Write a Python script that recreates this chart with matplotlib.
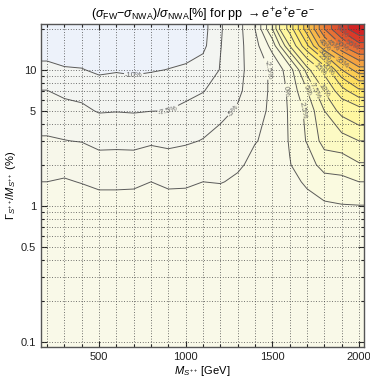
import numpy as np
import matplotlib
matplotlib.use('Agg')
import matplotlib.pyplot as plt
from matplotlib.colors import ListedColormap, BoundaryNorm
from matplotlib.ticker import FixedLocator, NullFormatter, FuncFormatter

plt.rcParams['font.family'] = ['Liberation Sans', 'DejaVu Sans']
plt.rcParams['mathtext.fontset'] = 'custom'
plt.rcParams['mathtext.rm'] = 'Liberation Sans'
plt.rcParams['mathtext.it'] = 'Liberation Sans:italic'

# masse du S++ (GeV) et largeur relative (%)
masses = [200, 300, 400, 500, 600, 700, 800, 900, 1000, 1100,
          1200, 1300, 1400, 1500, 1600, 1700, 1800, 1900, 2000]
widths = [0.1, 0.2, 0.5, 1, 1.5, 2, 3, 5, 7, 10, 15, 20]

# (sigma_FW - sigma_NWA)/sigma_NWA en %, une ligne par largeur
ratio_pct = [
    [-0.3, -0.3, -0.3, -0.3, -0.3, -0.3, -0.3, -0.3, -0.3, -0.3, -0.3, -0.3, -0.3, -0.3, -0.3, -0.3, -0.2, -0.2, -0.2],
    [-0.5, -0.5, -0.5, -0.5, -0.5, -0.5, -0.5, -0.5, -0.5, -0.5, -0.5, -0.5, -0.5, -0.5, -0.5, -0.4, -0.3, -0.3, -0.3],
    [-0.8, -0.8, -0.9, -0.9, -0.9, -0.9, -0.9, -0.9, -0.9, -0.9, -0.9, -0.8, -0.8, -0.7, -0.7, -0.6, -0.5, -0.4, -0.3],
    [-1.4, -1.4, -1.5, -1.7, -1.7, -1.65, -1.5, -1.65, -1.6, -1.5, -1.5, -1.3, -1.2, -1.0, -1.0, -0.6, -0.3, -0.1, -0.05],
    [-2.5, -2.3, -2.6, -3.0, -3.0, -2.95, -2.5, -2.95, -2.9, -2.5, -2.6, -2.2, -1.6, -1.3, -0.6, 0.3, 1.5, 1.8, 2.5],
    [-3.3, -3.3, -3.6, -4.1, -4.0, -4.1, -3.6, -4.0, -3.9, -3.4, -3.3, -2.8, -2.0, -1.6, -0.1, 1.2, 3.6, 3.8, 4.8],
    [-4.8, -4.95, -5.1, -5.7, -5.7, -5.7, -5.4, -5.6, -5.3, -4.9, -4.4, -3.7, -2.6, -2.0, 0.2, 2.7, 6.0, 6.5, 7.5],
    [-6.3, -6.7, -7.0, -7.7, -7.6, -7.7, -7.55, -7.5, -7.0, -6.6, -5.6, -4.8, -3.4, -2.0, 0.3, 3.2, 7.5, 11.0, 13.0],
    [-7.45, -8.1, -8.4, -9.0, -8.9, -9.0, -8.8, -8.7, -8.2, -7.6, -6.6, -5.4, -3.9, -2.0, 0.5, 5.0, 10.3, 18.0, 24.0],
    [-9.3, -9.8, -9.9, -10.4, -10.2, -10.4, -10.2, -9.95, -9.7, -9.0, -7.4, -5.5, -4.2, -1.9, 1.2, 8.5, 17.0, 30.0, 38.0],
    [-11.5, -11.6, -11.7, -12.0, -11.9, -12.0, -11.8, -11.4, -11.1, -10.6, -7.6, -5.8, -3.5, 1.0, 10.0, 24.0, 40.0, 50.0, 58.0],
    [-12.5, -12.6, -12.7, -13.0, -12.9, -13.0, -12.8, -12.3, -12.0, -10.9, -7.7, -6.0, -2.5, 5.0, 17.0, 33.0, 50.0, 62.0, 70.0],
]

niveaux = [-10, -7.5, -5, -2.5, 0, 2.5, 5, 7.5, 10, 15, 20, 25, 30, 35, 40, 45, 50, 55, 60, 65]

# couleurs des bandes
couleurs_bandes = ['#edf2fa', '#f3f5f2', '#f5f6ee', '#f7f7ea', '#f9f9e8', '#fafae0',
                   '#fbfbd4', '#fcfac4', '#fdf9b2', '#fff7a0', '#fff28a', '#ffea70',
                   '#fedd5e', '#fbcc52', '#f8b848', '#f4a240', '#ee8a3a', '#e87034',
                   '#e0542e', '#da3a28', '#d42424']

xlim = (165, 2029)
ylim = (0.0919, 21.7)

# on prolonge la grille jusqu'aux bords du cadre
x = np.concatenate([[xlim[0]], masses, [xlim[1]]])
y = np.concatenate([[ylim[0]], widths, [ylim[1]]])
Z = np.pad(np.array(ratio_pct), 1, mode='edge')
X, Y = np.meshgrid(x, y)

bornes = [-100] + niveaux + [200]
cmap = ListedColormap(couleurs_bandes)
norm = BoundaryNorm(bornes, cmap.N)

fig = plt.figure(figsize=(3.70, 3.78), dpi=100)
ax = fig.add_axes([41 / 370, 1 - 346.7 / 378, 323 / 370, 322.7 / 378])
ax.set_yscale('log')

ax.contourf(X, Y, Z, levels=bornes, cmap=cmap, norm=norm)
cs = ax.contour(X, Y, Z, levels=niveaux, colors='#5a5a5a', linewidths=0.7,
                linestyles='solid', negative_linestyles='solid')
ax.clabel(cs, fmt=lambda v: f'{v:g}%', fontsize=5.5, colors='#666666', inline=True, inline_spacing=1)

ax.set_xlim(*xlim)
ax.set_ylim(*ylim)

# grille pointillée
for m in range(200, 2001, 100):
    ax.axvline(m, color='#444444', linestyle=(0, (1, 2.2)), linewidth=0.6, zorder=3)
ygrid = [v * d for d in (0.1, 1, 10) for v in range(1, 10) if v * d <= 20]
for w in ygrid:
    ax.axhline(w, color='#444444', linestyle=(0, (1, 2.2)), linewidth=0.6, zorder=3)

ax.xaxis.set_major_locator(FixedLocator([500, 1000, 1500, 2000]))
ax.xaxis.set_minor_locator(FixedLocator(list(range(200, 2001, 100))))
ax.yaxis.set_major_locator(FixedLocator([0.1, 0.5, 1, 5, 10]))
ax.yaxis.set_minor_locator(FixedLocator(ygrid))
ax.yaxis.set_major_formatter(FuncFormatter(lambda v, p: f'{v:g}'))
ax.yaxis.set_minor_formatter(NullFormatter())
ax.tick_params(which='both', direction='in', top=True, right=True, labelsize=8, colors='#222222', width=0.8)
ax.tick_params(which='major', length=4)
ax.tick_params(which='minor', length=2)
for s in ax.spines.values():
    s.set_color('#555555')
    s.set_linewidth(1.0)

ax.set_title(r'$(\sigma_{\rm FW}{-}\sigma_{\rm NWA})/\sigma_{\rm NWA}$[%] for pp $\rightarrow e^{+}e^{+}e^{-}e^{-}$',
             fontsize=9, pad=3)
ax.set_xlabel(r'$M_{S^{++}}$ [GeV]', fontsize=8, labelpad=2)
ax.set_ylabel(r'$\Gamma_{S^{++}}/M_{S^{++}}$ (%)', fontsize=8, labelpad=2)

fig.savefig('out.png', dpi=100)
